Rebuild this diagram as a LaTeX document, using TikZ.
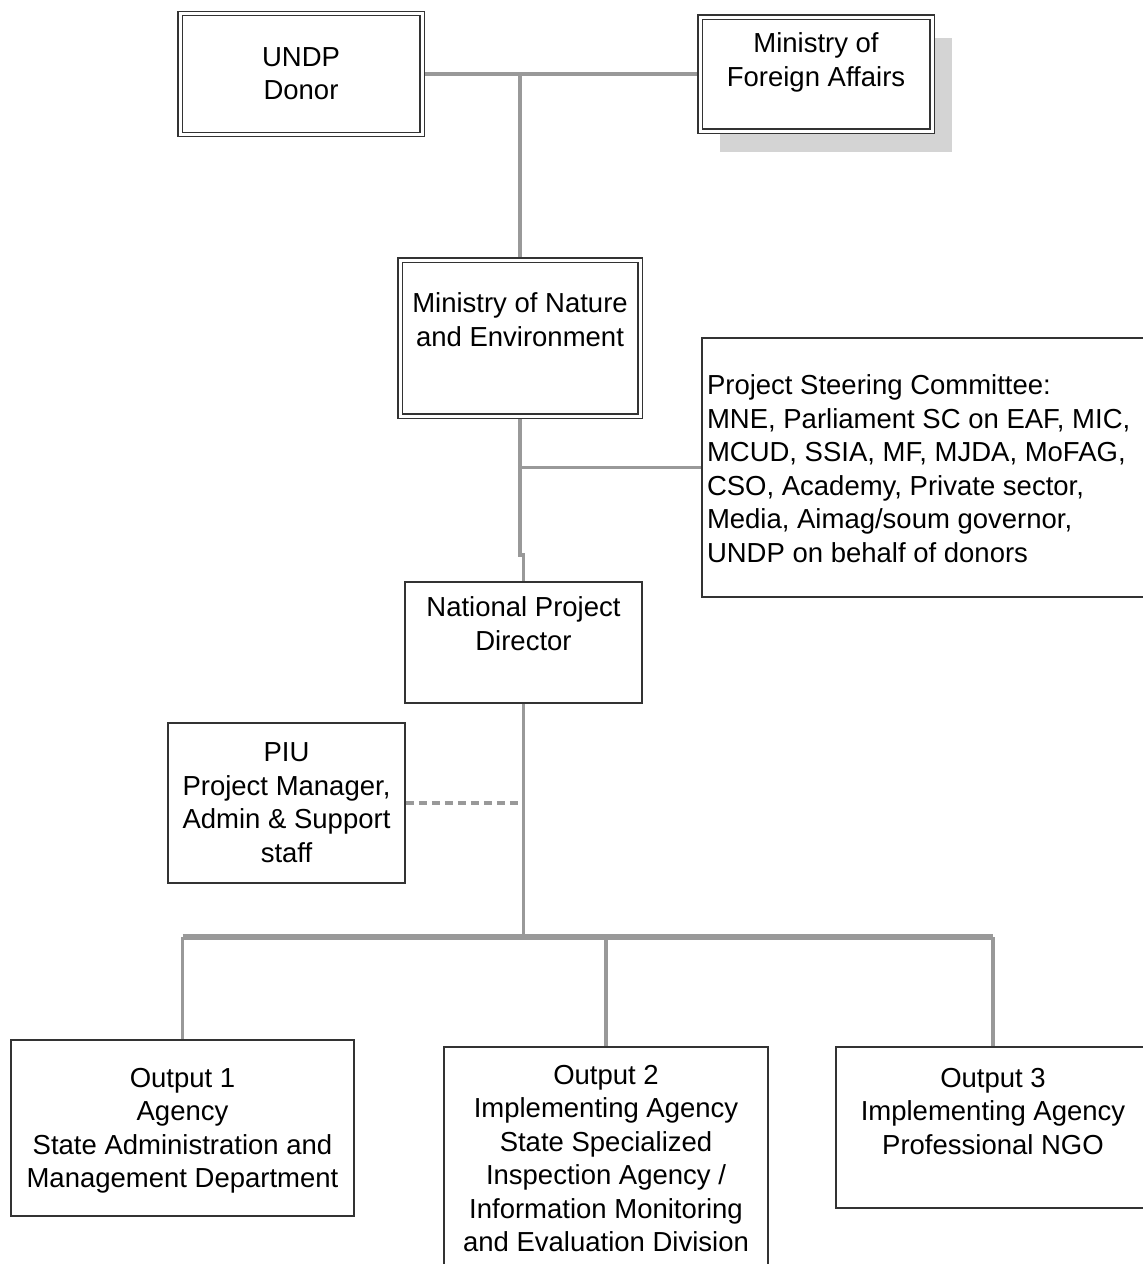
\documentclass[tikz,border=0pt]{standalone}
\usepackage{fontspec}
\setmainfont{Liberation Sans}
\usetikzlibrary{shadows,backgrounds}

\newdimen\pxu \pxu=0.5pt
% [alignment]{width}{height}{top gap}{lines}
\newcommand{\boxlines}[5][\centering]{\parbox[c][#3\pxu][t]{#2\pxu}{#1\vspace*{#4\pxu}#5}}

\tikzset{
  box/.style={draw=black!80, line width=0.9pt, fill=white, inner sep=0pt},
  dbox/.style={box, double=white, double distance=1.5pt, line width=0.7pt},
  conn/.style={draw=black!40, line width=1.6pt},
  bus/.style={conn, line width=2.6pt},
  link/.style={conn, dash pattern=on 4pt off 2.5pt},
}

\begin{document}
\begin{tikzpicture}[x=0.5pt, y=-0.5pt, font=\fontsize{13.75}{16.75}\selectfont]
    \useasboundingbox (0,0) rectangle (1143,1264);
    \clip (0,0) rectangle (1143,1264);

    \node[dbox] (undp) at (301,74) {\boxlines{242}{121}{34}{UNDP\\Donor}};
    \node[dbox, drop shadow={shadow xshift=10pt, shadow yshift=-10.5pt, fill=black!17, opacity=1}]
        (mfa) at (816,74) {\boxlines{232}{114}{16}{Ministry of\\Foreign Affairs}};
    \node[dbox] (mne) at (520,338) {\boxlines{240}{156}{33}{Ministry of Nature\\and Environment}};
    \node[box] (psc) at (926,467.5) {\boxlines[\raggedright\leftskip=5\pxu]{448}{259}{37}{Project Steering Committee:\\MNE, Parliament SC on EAF, MIC,\\MCUD, SSIA, MF, MJDA, MoFAG,\\CSO, Academy, Private sector,\\Media, Aimag/soum governor,\\UNDP on behalf of donors}};
    \node[box] (npd) at (523.5,642.5) {\boxlines{237}{121}{15}{National Project\\Director}};
    \node[box] (piu) at (286.5,803) {\boxlines{237}{160}{20}{PIU\\Project Manager,\\Admin \& Support\\staff}};
    \node[box] (out1) at (182.5,1128) {\boxlines{343}{176}{28}{Output 1\\Agency\\State Administration and\\Management Department}};
    \node[box] (out2) at (606,1163.5) {\boxlines{324}{233}{18}{Output 2\\Implementing Agency\\State Specialized\\Inspection Agency /\\Information Monitoring\\and Evaluation Division}};
    \node[box] (out3) at (993,1127.5) {\boxlines{314}{161}{21}{Output 3\\Implementing Agency\\Professional NGO}};

    \coordinate (jog) at (520,555);
    \coordinate (busL) at (182.5,937);
    \coordinate (busR) at (993,937);

    % Connectors
    \begin{scope}[on background layer]
    \fill[white] (0,0) rectangle (1143,1264);
    \draw[conn] (undp.east) -- (mfa.west);
    \draw[conn] (undp.east -| mne.north) -- (mne.north);
    \draw[conn] (mne.south) -- (jog) -| (npd.north);
    \draw[conn] (mne.south |- psc.west) -- (psc.west);
    \draw[conn] (npd.south) -- (npd.south |- busL);
    \draw[link] (piu.east) -- (piu.east -| npd.south);
    \draw[bus] (busL) -- (busR);
    \foreach \outbox in {out1,out2,out3}
        \draw[conn] (\outbox.north |- busL) -- (\outbox.north);
    \end{scope}
\end{tikzpicture}
\end{document}
